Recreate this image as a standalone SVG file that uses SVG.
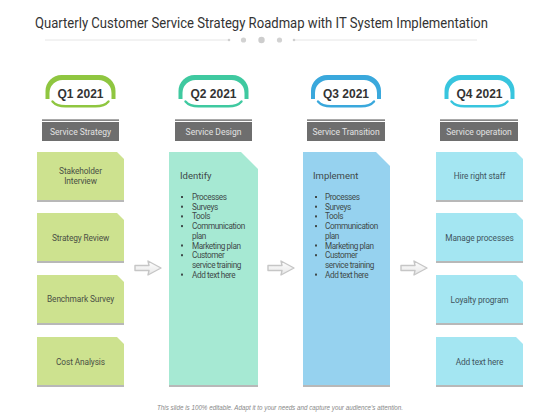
<svg xmlns="http://www.w3.org/2000/svg" width="560" height="420" viewBox="0 0 560 420">
<style>
.title{font-family:Roboto,"Liberation Sans",sans-serif;font-size:14.8px;fill:#333}
.q{font-family:"Liberation Sans",Arial,sans-serif;font-size:12px;font-weight:bold;fill:#333;text-anchor:middle}
.hdr{font-family:Roboto,"Liberation Sans",sans-serif;font-size:8.5px;fill:#e2e2e2;text-anchor:middle}
.lbl{font-family:Roboto,"Liberation Sans",sans-serif;font-size:8.3px;fill:#4a4f45;text-anchor:middle;letter-spacing:-0.1px}
.lbl4{font-family:Roboto,"Liberation Sans",sans-serif;font-size:8.3px;fill:#3f5560;text-anchor:middle;letter-spacing:-0.1px}
.body{font-family:Roboto,"Liberation Sans",sans-serif;font-size:8.2px;fill:#3f4a4a;letter-spacing:-0.4px}
.head{font-family:Roboto,"Liberation Sans",sans-serif;font-size:9.5px;fill:#3f4a4a}
.foot{font-family:"Liberation Sans",Arial,sans-serif;font-size:6.3px;font-style:italic;fill:#888;text-anchor:middle}
.shadow{fill:#b8b8b8}
.hline{fill:#555}
.hbox{fill:#6e6e6e}
.bul{fill:#3f4a4a}
.arrow{fill:url(#ag);stroke:#c6c6c6;stroke-width:1.4;stroke-linejoin:round}
</style>
<defs>
<linearGradient id="ag" x1="0" y1="0" x2="0" y2="1">
<stop offset="0" stop-color="#ffffff"/>
<stop offset="1" stop-color="#e6e6e6"/>
</linearGradient>
</defs>
<rect width="560" height="420" fill="#ffffff"/>

<g id="title">
<text class="title" x="35" y="28" textLength="453" lengthAdjust="spacingAndGlyphs">Quarterly Customer Service Strategy Roadmap with IT System Implementation</text>
<line x1="45" y1="40" x2="228" y2="40" stroke="#e0e0e0" stroke-width="0.8"/>
<line x1="294" y1="40" x2="477" y2="40" stroke="#e0e0e0" stroke-width="0.8"/>
<circle cx="229" cy="40" r="1.3" fill="#cfcfcf"/>
<circle cx="243.5" cy="40" r="2.6" fill="#d2d2d2"/>
<circle cx="261.5" cy="40" r="3.2" fill="#cdcdcd"/>
<circle cx="279.5" cy="40" r="2.6" fill="#d2d2d2"/>
<circle cx="294" cy="40" r="1.3" fill="#cfcfcf"/>
</g>

<!-- Q1 column -->
<g id="q1-pill" transform="translate(80.5,0)">
<path d="M-35,99 L-35,91 A16,16 0 0 1 -19,75 L19,75 A16,16 0 0 1 35,91 L35,99 L31,99 L31,93 A13,13 0 0 0 18,80 L-18,80 A13,13 0 0 0 -31,93 L-31,99 Z" fill="#8fc640"/>
<path d="M-28,101.5 Q-24,106.3 -15,106.3 L15,106.3 Q24,106.3 28,101.5" fill="none" stroke="#8fc640" stroke-width="2.4" stroke-linecap="round"/>
<text class="q" x="0" y="97.5">Q1 2021</text>
</g>
<g id="q1-header">
<rect class="hline" x="42" y="119.5" width="77" height="1.2"/>
<rect class="hbox" x="42" y="122" width="77" height="19"/>
<text class="hdr" x="80.5" y="134.5">Service Strategy</text>
</g>
<g id="q1-box1">
<path d="M37,152 L117,152 L124,159 L124,200 L37,200 Z" fill="#cde28f"/>
<rect class="shadow" x="37" y="200" width="87" height="2"/>
<text class="lbl" x="80.5" y="174">Stakeholder</text>
<text class="lbl" x="80.5" y="184">Interview</text>
</g>
<g id="q1-box2">
<path d="M37,213 L117,213 L124,220 L124,261 L37,261 Z" fill="#cde28f"/>
<rect class="shadow" x="37" y="261" width="87" height="2"/>
<text class="lbl" x="80.5" y="240.5">Strategy Review</text>
</g>
<g id="q1-box3">
<path d="M37,275 L117,275 L124,282 L124,323 L37,323 Z" fill="#cde28f"/>
<rect class="shadow" x="37" y="323" width="87" height="2"/>
<text class="lbl" x="80.5" y="302">Benchmark Survey</text>
</g>
<g id="q1-box4">
<path d="M37,337 L117,337 L124,344 L124,385 L37,385 Z" fill="#cde28f"/>
<rect class="shadow" x="37" y="385" width="87" height="2"/>
<text class="lbl" x="80.5" y="364.5">Cost Analysis</text>
</g>

<!-- Q2 column -->
<g id="q2-pill" transform="translate(213.5,0)">
<path d="M-35,99 L-35,91 A16,16 0 0 1 -19,75 L19,75 A16,16 0 0 1 35,91 L35,99 L31,99 L31,93 A13,13 0 0 0 18,80 L-18,80 A13,13 0 0 0 -31,93 L-31,99 Z" fill="#3fc9a0"/>
<path d="M-28,101.5 Q-24,106.3 -15,106.3 L15,106.3 Q24,106.3 28,101.5" fill="none" stroke="#3fc9a0" stroke-width="2.4" stroke-linecap="round"/>
<text class="q" x="0" y="97.5">Q2 2021</text>
</g>
<g id="q2-header">
<rect class="hline" x="175" y="119.5" width="77" height="1.2"/>
<rect class="hbox" x="175" y="122" width="77" height="19"/>
<text class="hdr" x="213.5" y="134.5">Service Design</text>
</g>
<g id="q2-box">
<path d="M169,152 L241,152 L258,169 L258,385 L169,385 Z" fill="#a6e9d3"/>
<rect class="shadow" x="169" y="385" width="89" height="2"/>
<text class="head" x="180" y="179">Identify</text>
<g>
<rect class="bul" x="181" y="196" width="2" height="2"/>
<rect class="bul" x="181" y="205.7" width="2" height="2"/>
<rect class="bul" x="181" y="215.4" width="2" height="2"/>
<rect class="bul" x="181" y="225.1" width="2" height="2"/>
<rect class="bul" x="181" y="244.5" width="2" height="2"/>
<rect class="bul" x="181" y="254.2" width="2" height="2"/>
<rect class="bul" x="181" y="273.6" width="2" height="2"/>
</g>
<g class="body">
<text x="192" y="200">Processes</text>
<text x="192" y="209.7">Surveys</text>
<text x="192" y="219.4">Tools</text>
<text x="192" y="229.1">Communication</text>
<text x="192" y="238.8">plan</text>
<text x="192" y="248.5">Marketing plan</text>
<text x="192" y="258.2">Customer</text>
<text x="192" y="267.9">service training</text>
<text x="192" y="277.6">Add text here</text>
</g>
</g>

<!-- Q3 column -->
<g id="q3-pill" transform="translate(346,0)">
<path d="M-35,99 L-35,91 A16,16 0 0 1 -19,75 L19,75 A16,16 0 0 1 35,91 L35,99 L31,99 L31,93 A13,13 0 0 0 18,80 L-18,80 A13,13 0 0 0 -31,93 L-31,99 Z" fill="#3aa8dc"/>
<path d="M-28,101.5 Q-24,106.3 -15,106.3 L15,106.3 Q24,106.3 28,101.5" fill="none" stroke="#3aa8dc" stroke-width="2.4" stroke-linecap="round"/>
<text class="q" x="0" y="97.5">Q3 2021</text>
</g>
<g id="q3-header">
<rect class="hline" x="307" y="119.5" width="78" height="1.2"/>
<rect class="hbox" x="307" y="122" width="78" height="19"/>
<text class="hdr" x="346" y="134.5">Service Transition</text>
</g>
<g id="q3-box">
<path d="M303,152 L376,152 L390,166 L390,385 L303,385 Z" fill="#96d2ef"/>
<rect class="shadow" x="303" y="385" width="87" height="2"/>
<text class="head" x="313" y="179">Implement</text>
<g>
<rect class="bul" x="315" y="196" width="2" height="2"/>
<rect class="bul" x="315" y="205.7" width="2" height="2"/>
<rect class="bul" x="315" y="215.4" width="2" height="2"/>
<rect class="bul" x="315" y="225.1" width="2" height="2"/>
<rect class="bul" x="315" y="244.5" width="2" height="2"/>
<rect class="bul" x="315" y="254.2" width="2" height="2"/>
<rect class="bul" x="315" y="273.6" width="2" height="2"/>
</g>
<g class="body">
<text x="325" y="200">Processes</text>
<text x="325" y="209.7">Surveys</text>
<text x="325" y="219.4">Tools</text>
<text x="325" y="229.1">Communication</text>
<text x="325" y="238.8">plan</text>
<text x="325" y="248.5">Marketing plan</text>
<text x="325" y="258.2">Customer</text>
<text x="325" y="267.9">service training</text>
<text x="325" y="277.6">Add text here</text>
</g>
</g>

<!-- Q4 column -->
<g id="q4-pill" transform="translate(479.5,0)">
<path d="M-35,99 L-35,91 A16,16 0 0 1 -19,75 L19,75 A16,16 0 0 1 35,91 L35,99 L31,99 L31,93 A13,13 0 0 0 18,80 L-18,80 A13,13 0 0 0 -31,93 L-31,99 Z" fill="#38c5de"/>
<path d="M-28,101.5 Q-24,106.3 -15,106.3 L15,106.3 Q24,106.3 28,101.5" fill="none" stroke="#38c5de" stroke-width="2.4" stroke-linecap="round"/>
<text class="q" x="0" y="97.5">Q4 2021</text>
</g>
<g id="q4-header">
<rect class="hline" x="440" y="119.5" width="78" height="1.2"/>
<rect class="hbox" x="440" y="122" width="78" height="19"/>
<text class="hdr" x="479" y="134.5">Service operation</text>
</g>
<g id="q4-box1">
<path d="M436,152 L516,152 L523,159 L523,200 L436,200 Z" fill="#a4e6f2"/>
<rect class="shadow" x="436" y="200" width="87" height="2"/>
<text class="lbl4" x="479.5" y="179">Hire right staff</text>
</g>
<g id="q4-box2">
<path d="M436,213 L516,213 L523,220 L523,261 L436,261 Z" fill="#a4e6f2"/>
<rect class="shadow" x="436" y="261" width="87" height="2"/>
<text class="lbl4" x="479.5" y="240.5">Manage processes</text>
</g>
<g id="q4-box3">
<path d="M436,275 L516,275 L523,282 L523,323 L436,323 Z" fill="#a4e6f2"/>
<rect class="shadow" x="436" y="323" width="87" height="2"/>
<text class="lbl4" x="479.5" y="302.5">Loyalty program</text>
</g>
<g id="q4-box4">
<path d="M436,337 L516,337 L523,344 L523,385 L436,385 Z" fill="#a4e6f2"/>
<rect class="shadow" x="436" y="385" width="87" height="2"/>
<text class="lbl4" x="479.5" y="364.5">Add text here</text>
</g>

<g id="connectors">
<path class="arrow" d="M135,265.5 L149,265.5 L148,261 L161,268 L148,275 L149,270.5 L135,270.5 Z"/>
<path class="arrow" d="M268,265.5 L282,265.5 L281,261 L294,268 L281,275 L282,270.5 L268,270.5 Z"/>
<path class="arrow" d="M401,265.5 L415,265.5 L414,261 L427,268 L414,275 L415,270.5 L401,270.5 Z"/>
</g>

<g id="footer">
<text class="foot" x="280" y="410" textLength="246" lengthAdjust="spacingAndGlyphs">This slide is 100% editable. Adapt it to your needs and capture your audience’s attention.</text>
</g>
</svg>
